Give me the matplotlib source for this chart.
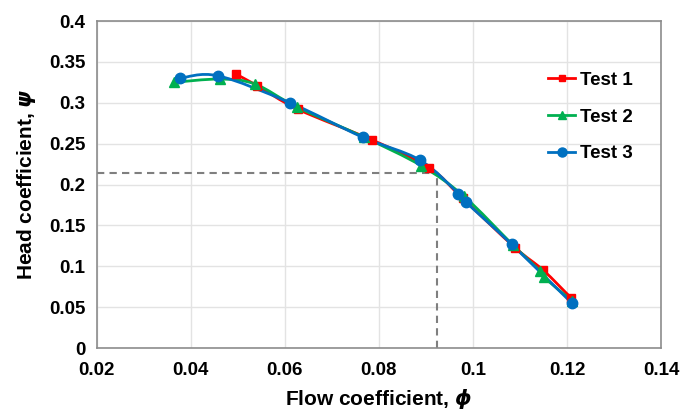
import numpy as np
import matplotlib
matplotlib.use("Agg")
import matplotlib.pyplot as plt
from matplotlib.path import Path
from matplotlib.patches import PathPatch
from matplotlib.lines import Line2D

plt.rcParams['font.family'] = ['Liberation Sans', 'DejaVu Sans']
plt.rcParams['font.weight'] = 'bold'
plt.rcParams['mathtext.fontset'] = 'custom'
plt.rcParams['mathtext.it'] = 'DejaVu Sans:italic:bold'
plt.rcParams['mathtext.rm'] = 'Liberation Sans:bold'

# measured points
test1_x = [0.0496, 0.0541, 0.0628, 0.0786, 0.0907, 0.0978, 0.1089, 0.1149, 0.1208]
test1_y = [0.335, 0.321, 0.292, 0.2544, 0.2206, 0.183, 0.123, 0.0954, 0.0616]

test2_x = [0.0364, 0.0462, 0.0536, 0.0625, 0.0768, 0.0890, 0.0980, 0.1085, 0.1143, 0.1150, 0.1210]
test2_y = [0.325, 0.329, 0.323, 0.295, 0.258, 0.223, 0.186, 0.126, 0.094, 0.087, 0.058]

test3_x = [0.0377, 0.0458, 0.0611, 0.0765, 0.0887, 0.0969, 0.0984, 0.1082, 0.1210]
test3_y = [0.330, 0.333, 0.300, 0.258, 0.230, 0.189, 0.179, 0.127, 0.055]

labels = ["Test 1", "Test 2", "Test 3"]
colors = ["#FF0000", "#00B050", "#0070C0"]
markers = ["s", "^", "o"]
msizes = [6, 7, 7.5]

design_phi = 0.0923
design_psi = 0.214


def smooth_path(x, y):
    """Excel-style smoothed line: cubic Bezier through every point."""
    p = np.column_stack([x, y])
    n = len(p)
    verts = [p[0]]
    codes = [Path.MOVETO]
    for i in range(n - 1):
        p0 = p[i - 1] if i > 0 else p[i]
        p3 = p[i + 2] if i + 2 < n else p[i + 1]
        c1 = p[i] + (p[i + 1] - p0) / 6.0
        c2 = p[i + 1] - (p3 - p[i]) / 6.0
        verts += [c1, c2, p[i + 1]]
        codes += [Path.CURVE4] * 3
    return Path(verts, codes)


fig = plt.figure(figsize=(6.96, 4.12), dpi=100)
ax = fig.add_axes([0.139, 0.155, 0.811, 0.794])

series = [(test1_x, test1_y), (test2_x, test2_y), (test3_x, test3_y)]
handles = []
for (x, y), lab, c, m, ms in zip(series, labels, colors, markers, msizes):
    ax.add_patch(PathPatch(smooth_path(x, y), facecolor='none', edgecolor=c, lw=2, zorder=3))
    ax.plot(x, y, linestyle='none', marker=m, color=c, ms=ms, zorder=4)
    handles.append(Line2D([], [], color=c, lw=2, marker=m, ms=ms - 1, label=lab))

# design point guide lines
ax.plot([0.02, design_phi], [design_psi, design_psi], color='#7F7F7F', lw=1.5, ls=(0, (3.5, 2.5)), zorder=2)
ax.plot([design_phi, design_phi], [0, design_psi], color='#7F7F7F', lw=1.5, ls=(0, (3.5, 2.5)), zorder=2)

ax.set_xlim(0.02, 0.14)
ax.set_ylim(0, 0.4)
ax.set_xticks(np.arange(0.02, 0.141, 0.02))
ax.set_xticklabels(["0.02", "0.04", "0.06", "0.08", "0.1", "0.12", "0.14"])
ax.set_yticks(np.arange(0, 0.401, 0.05))
ax.set_yticklabels(["0", "0.05", "0.1", "0.15", "0.2", "0.25", "0.3", "0.35", "0.4"])
ax.tick_params(length=0, labelsize=13.5, pad=8)
ax.tick_params(axis='x', pad=10)
ax.grid(True, color='#E3E3E3', lw=1)
ax.set_axisbelow(True)
for s in ax.spines.values():
    s.set_color('#8C8C8C')
    s.set_linewidth(1.2)

ax.set_xlabel(r"Flow coefficient, $\phi$", fontsize=15, fontweight='bold', labelpad=5)
ax.set_ylabel(r"Head coefficient, $\psi$", fontsize=15, fontweight='bold', labelpad=8)

ax.legend(handles=handles, loc='upper right', bbox_to_anchor=(0.98, 0.897), frameon=False,
          handlelength=1.4, labelspacing=1.05, handletextpad=0.3,
          prop={'weight': 'bold', 'size': 13.5})

fig.savefig("out.png", dpi=100)
